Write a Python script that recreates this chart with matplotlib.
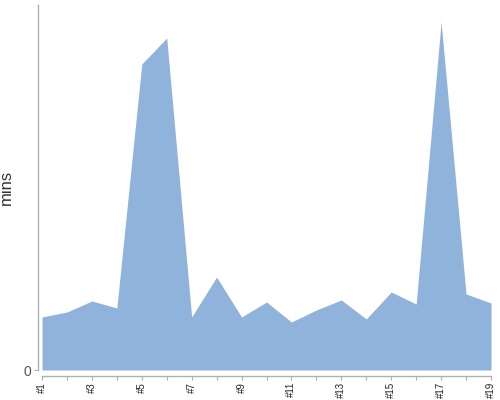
import matplotlib
matplotlib.use('Agg')
from matplotlib import pyplot as plt

plt.rcParams['font.family'] = ['Liberation Sans', 'DejaVu Sans']

# categories and minutes
labels = ['#%d' % i for i in range(1, 20)]
mins = [53, 58, 69, 62, 306, 332, 53, 93, 53, 68, 48, 60, 70, 51, 78, 66, 348, 76, 67]
y_max = 365

fig = plt.figure(figsize=(5, 4), dpi=100)
ax = fig.add_axes([42 / 500, 30 / 400, 449 / 500, 365 / 400])

x = list(range(len(labels)))
ax.fill_between(x, 0, mins, color='#90b3db', linewidth=0)

ax.set_xlim(0, len(labels) - 1)
ax.set_ylim(0, y_max)

for s in ['top', 'right']:
    ax.spines[s].set_visible(False)
ax.spines['left'].set_position(('outward', 3))
ax.spines['bottom'].set_position(('outward', 4))
for s in ['left', 'bottom']:
    ax.spines[s].set_color('#b0b0b0')
    ax.spines[s].set_linewidth(1)

ax.set_xticks(x)
ax.set_xticklabels([l if i % 2 == 0 else '' for i, l in enumerate(labels)],
                   rotation=90, fontsize=7, color='#222222')
ax.tick_params(axis='x', length=3, color='#b0b0b0', pad=1.5)
ax.set_yticks([0])
ax.set_yticklabels(['0'], fontsize=10, color='#555555')
ax.tick_params(axis='y', length=3, color='#b0b0b0', pad=2)

ax.set_ylabel('mins', fontsize=12, color='#333333')
ax.yaxis.set_label_coords(-0.063, 0.5)

fig.savefig('out.png', dpi=100)
